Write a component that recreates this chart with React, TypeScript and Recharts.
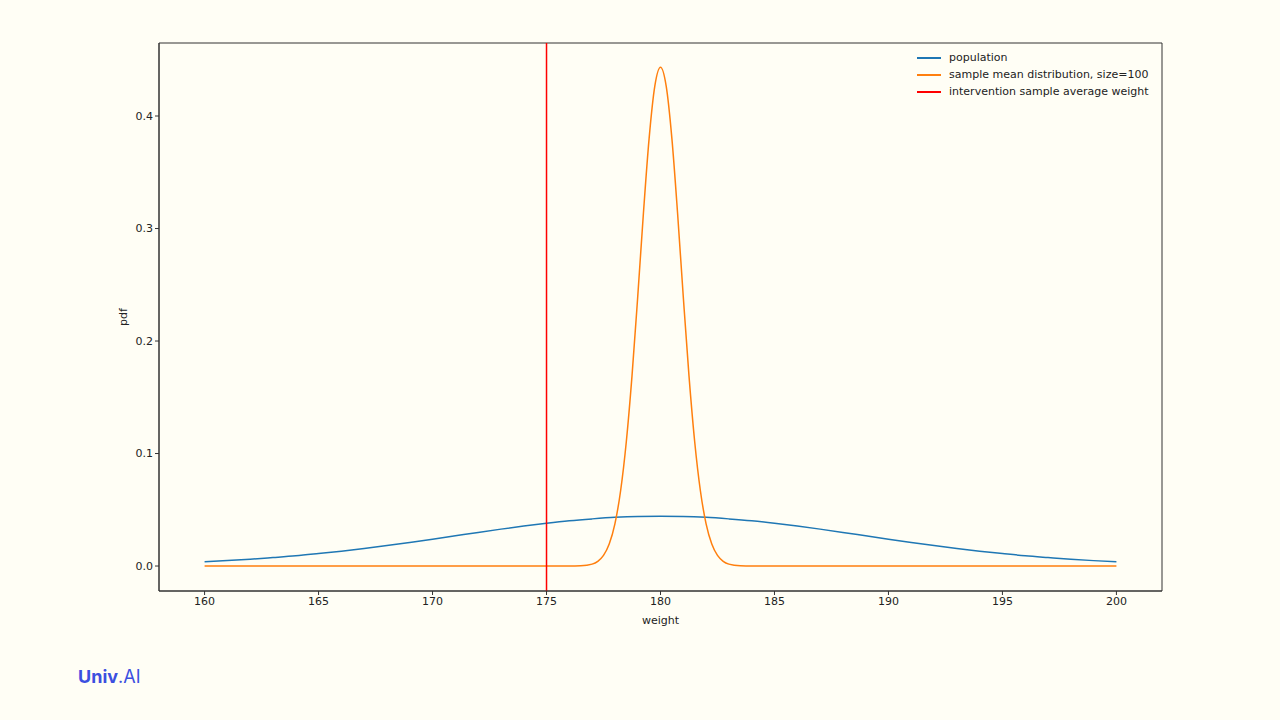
import React from 'react';
import {
  LineChart,
  Line,
  XAxis,
  YAxis,
  ReferenceLine,
  ReferenceArea,
} from 'recharts';

// population pdf (weight, pdf)
const popWeights = [
  160, 161, 162, 163, 164, 165, 166, 167, 168, 169, 170, 171, 172, 173, 174, 175, 176, 177, 178, 179, 180,
  181, 182, 183, 184, 185, 186, 187, 188, 189, 190, 191, 192, 193, 194, 195, 196, 197, 198, 199, 200,
];
const popValues = [
  0.0038, 0.0048, 0.006, 0.0075, 0.0091, 0.0111, 0.0132, 0.0156, 0.0182, 0.021, 0.0239, 0.0269, 0.0299,
  0.0328, 0.0355, 0.038, 0.0402, 0.0419, 0.0433, 0.0441, 0.0443, 0.0441, 0.0433, 0.0419, 0.0402, 0.038,
  0.0355, 0.0328, 0.0299, 0.0269, 0.0239, 0.021, 0.0182, 0.0156, 0.0132, 0.0111, 0.0091, 0.0075, 0.006,
  0.0048, 0.0038,
];

// sample mean distribution (size=100)
const sampleWeights = [
  160, 165, 170, 174, 175, 176, 176.5, 177, 177.25, 177.5, 177.75, 178, 178.25, 178.5, 178.75, 179, 179.25,
  179.5, 179.75, 180, 180.25, 180.5, 180.75, 181, 181.25, 181.5, 181.75, 182, 182.25, 182.5, 182.75, 183,
  183.5, 184, 185, 186, 190, 195, 200,
];
const sampleValues = [
  0, 0, 0, 0, 0, 0, 0.0002, 0.0017, 0.0042, 0.0094, 0.0195, 0.0375, 0.0669, 0.1105, 0.169, 0.2391, 0.3133,
  0.3799, 0.4265, 0.4433, 0.4265, 0.3799, 0.3133, 0.2391, 0.169, 0.1105, 0.0669, 0.0375, 0.0195, 0.0094,
  0.0042, 0.0017, 0.0002, 0, 0, 0, 0, 0, 0,
];

const interventionWeight = 175;

const xDomain = [158, 202];
const yDomain = [-0.0222, 0.4649];
const xTicks = [160, 165, 170, 175, 180, 185, 190, 195, 200];
const yTicks = [0, 0.1, 0.2, 0.3, 0.4];

const legendItems = [
  { label: 'population', color: '#1f77b4' },
  { label: 'sample mean distribution, size=100', color: '#ff7f0e' },
  { label: 'intervention sample average weight', color: '#ff0000' },
];

const popData = popWeights.map((w, i) => ({ w, pdf: popValues[i] }));
const sampleData = sampleWeights.map((w, i) => ({ w, pdf: sampleValues[i] }));

const FONT = '"DejaVu Sans", sans-serif';
const BG = '#fffef5';
const AX = '#333333';

const LegendBox = () => (
  <div
    style={{
      position: 'absolute',
      top: 49,
      left: 917,
      fontFamily: FONT,
      fontSize: 11,
      color: '#222',
    }}
  >
    {legendItems.map((it) => (
      <div key={it.label} style={{ display: 'flex', alignItems: 'center', height: 17 }}>
        <div style={{ width: 24, height: 2, background: it.color, marginRight: 8 }} />
        <span>{it.label}</span>
      </div>
    ))}
  </div>
);

export default function App() {
  return (
    <div
      style={{
        position: 'absolute',
        left: 0,
        top: 0,
        width: 1280,
        height: 720,
        background: BG,
        fontFamily: FONT,
      }}
    >
      <LineChart
        width={1280}
        height={720}
        margin={{ top: 43, right: 118, bottom: 96, left: 109 }}
      >
        <XAxis
          dataKey="w"
          type="number"
          domain={xDomain}
          ticks={xTicks}
          allowDataOverflow
          height={33}
          stroke={AX}
          tickSize={4}
          tick={{ fontSize: 11, fill: '#222', fontFamily: FONT }}
          tickLine={{ stroke: AX }}
          label={{ value: 'weight', position: 'insideBottom', offset: 0, fontSize: 11, fill: '#222', fontFamily: FONT }}
        />
        <YAxis
          type="number"
          domain={yDomain}
          ticks={yTicks}
          allowDataOverflow
          width={50}
          stroke={AX}
          tickSize={4}
          tickFormatter={(v: number) => v.toFixed(1)}
          tick={{ fontSize: 11, fill: '#222', fontFamily: FONT }}
          tickLine={{ stroke: AX }}
          label={{
            value: 'pdf',
            angle: -90,
            position: 'insideLeft',
            offset: 14,
            fontSize: 11,
            fill: '#222',
            fontFamily: FONT,
            style: { textAnchor: 'middle' },
          }}
        />
        <ReferenceArea
          x1={xDomain[0]}
          x2={xDomain[1]}
          y1={yDomain[0]}
          y2={yDomain[1]}
          fill="none"
          fillOpacity={0}
          stroke={AX}
          strokeWidth={1}
          ifOverflow="visible"
        />
        <Line
          data={popData}
          dataKey="pdf"
          type="monotone"
          stroke="#1f77b4"
          strokeWidth={1.5}
          dot={false}
          activeDot={false}
          isAnimationActive={false}
        />
        <Line
          data={sampleData}
          dataKey="pdf"
          type="monotone"
          stroke="#ff7f0e"
          strokeWidth={1.5}
          dot={false}
          activeDot={false}
          isAnimationActive={false}
        />
        <ReferenceLine x={interventionWeight} stroke="#ff0000" strokeWidth={1.5} />
      </LineChart>
      <LegendBox />
      <div
        style={{
          position: 'absolute',
          left: 78,
          top: 665,
          fontFamily: 'Inter, sans-serif',
          fontSize: 18,
          color: '#3b4fe0',
          lineHeight: '24px',
        }}
      >
        <span style={{ fontWeight: 700 }}>Univ</span>
        <span style={{ fontWeight: 400 }}>.AI</span>
      </div>
    </div>
  );
}
